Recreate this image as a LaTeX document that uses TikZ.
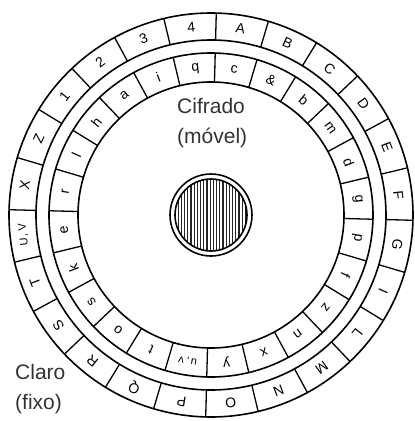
\documentclass[tikz,border=0pt]{standalone}
\usepackage{fontspec}
\setmainfont{Liberation Sans}
\usepackage{tikz}
\tikzset{
  ring/.style={line width=1.6pt},
  cell/.style={line width=1.3pt},
  glyph/.style={font=\fontsize{14}{14}\selectfont, inner sep=0pt},
  caption/.style={font=\fontsize{21}{30}\selectfont, color=black!80, inner sep=0pt, align=left, anchor=base west}
}
\newcommand{\pair}[2]{{\fontsize{11}{11}\selectfont #1\kern1.5pt,\kern2.5pt#2}}

\begin{document}
\begin{tikzpicture}[x=1pt, y=1pt]
  \useasboundingbox (-211,-206) rectangle (204,215);
  \def\ra{202}\def\rb{175}\def\rc{162}\def\rd{133}
  % --- rings ---
  \draw[ring] (0,0) circle (\ra);
  \draw[ring] (0,0) circle (\rb);
  \draw[ring] (0,0) circle (\rc);
  \draw[ring] (0,0) circle (\rd);
  % --- cell borders, 24 cells of 15 degrees ---
  \foreach \k in {0,...,23} {
    \draw[cell] (88.5+15*\k:\rb) -- (88.5+15*\k:\ra);
    \draw[cell] (88.5+15*\k:\rd) -- (88.5+15*\k:\rc);
  }
  % --- outer ring: plain text (fixo) ---
  \foreach \t [count=\i from 0] in {4,3,2,1,Z,X,\pair{U}{V},T,S,R,Q,P,O,N,M,L,I,G,F,E,D,C,B,A}
    \node[glyph, rotate=6+15*\i] (o\i) at (96+15*\i:188.5) {\t};
  % --- inner ring: cipher (movel) ---
  \foreach \t [count=\i from 0] in {q,i,a,h,l,r,e,k,s,o,t,\pair{u}{v},y,x,n,z,f,p,g,d,m,b,\&,c}
    \node[glyph, rotate=6+15*\i] (c\i) at (96+15*\i:147.5) {\t};
  % --- hub ---
  \begin{scope}
    \clip (0,0) circle (36);
    \foreach \x in {-36,-32.8,...,36}
      \draw[line width=1.3pt, black!85] (\x,-37) -- (\x,37);
  \end{scope}
  \draw[ring] (0,0) circle (36);
  \draw[ring] (0,0) circle (41);
  % --- captions (base = last line) ---
  \node[caption] (cifrado) at (-34,72) {Cifrado\\(móvel)};
  \node[caption] (claro) at (-196,-194) {Claro\\(fixo)};
\end{tikzpicture}
\end{document}
